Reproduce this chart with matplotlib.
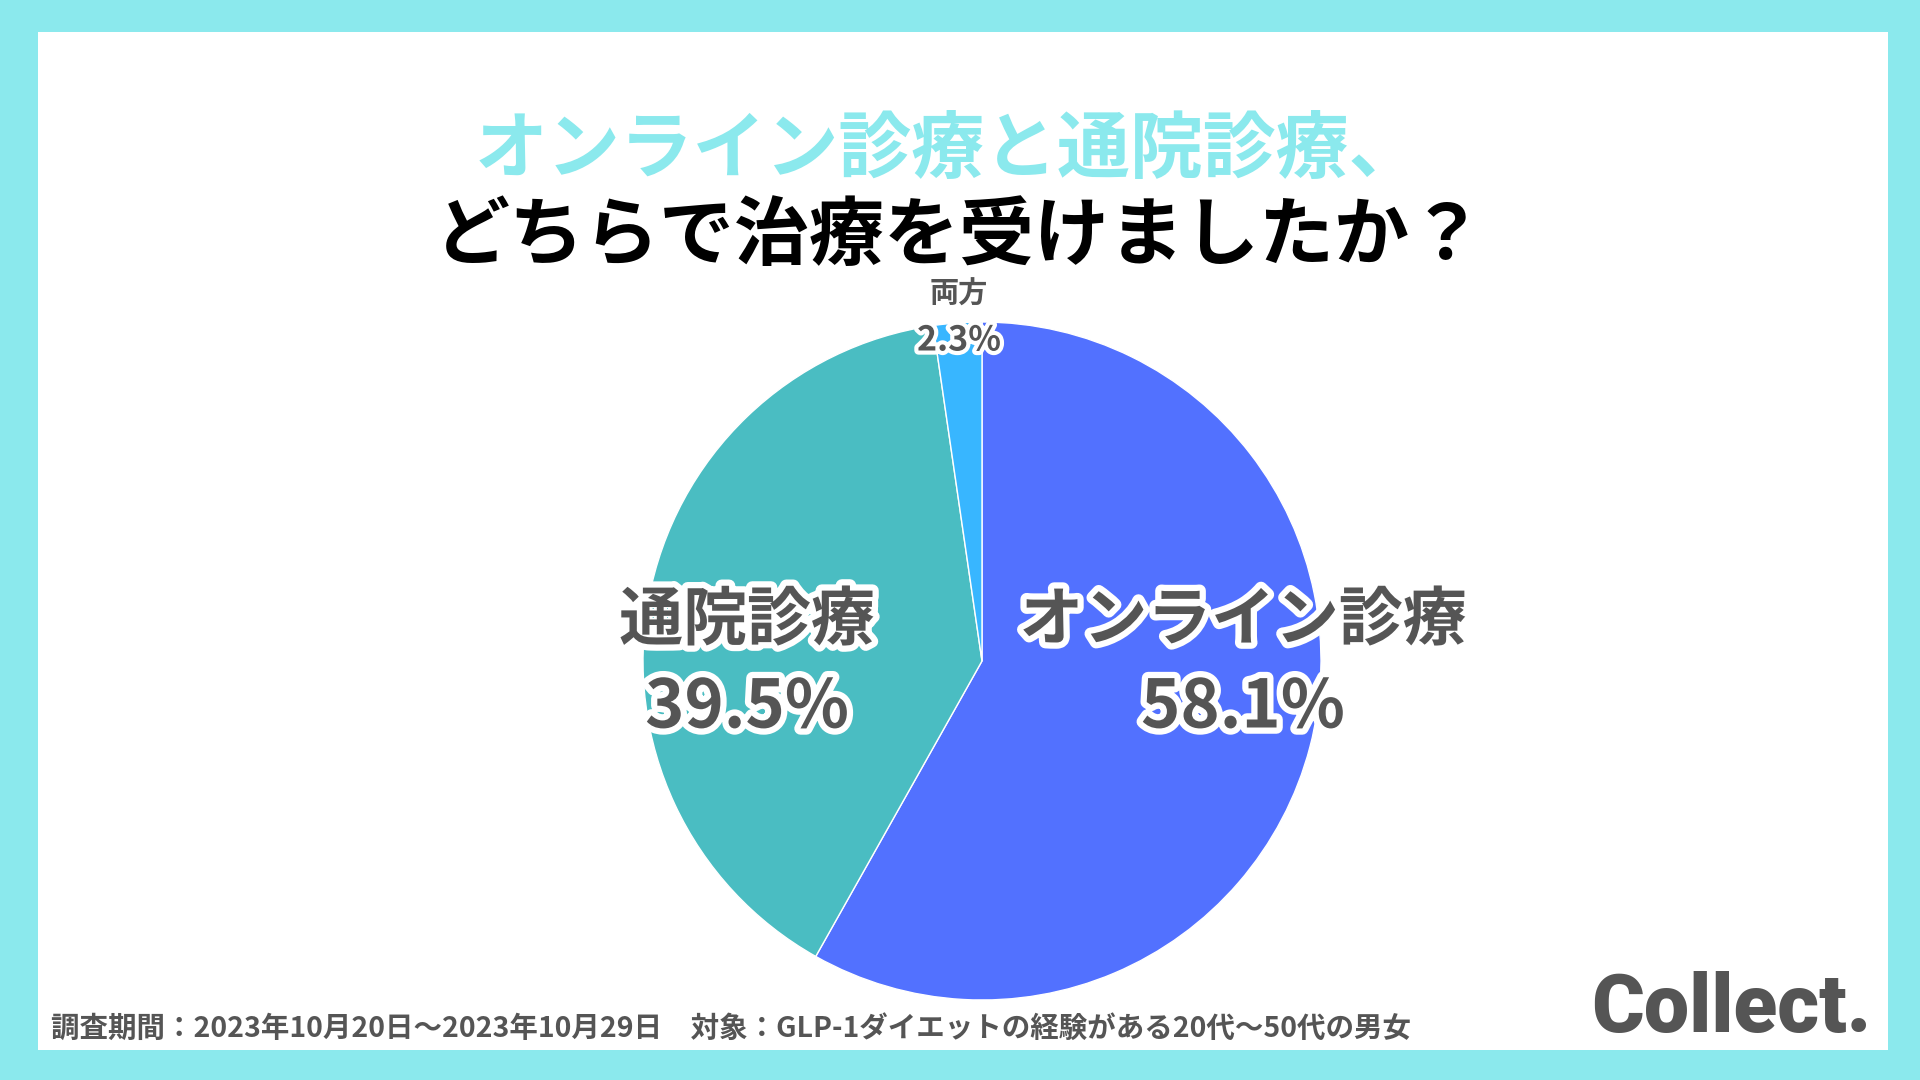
import matplotlib.pyplot as plt
import matplotlib.patheffects as pe
from matplotlib.patches import Rectangle

plt.rcParams['font.family'] = ['Noto Sans CJK JP', 'DejaVu Sans']

# data
labels = ['オンライン診療', '通院診療', '両方']
values = [58.1, 39.5, 2.3]
colors = ['#5271FF', '#4ABDC2', '#38B6FF']

title1 = 'オンライン診療と通院診療、'
title2 = 'どちらで治療を受けましたか？'
footer = '調査期間：2023年10月20日～2023年10月29日　対象：GLP-1ダイエットの経験がある20代～50代の男女'

W, H = 1920, 1080
fig = plt.figure(figsize=(19.2, 10.8), dpi=100)
fig.patch.set_facecolor('#8BE9ED')

# white card
fig.add_artist(Rectangle((38 / W, 1 - 1050 / H), (1888 - 38) / W, (1050 - 32) / H,
                         transform=fig.transFigure, facecolor='white', edgecolor='none', zorder=0))

# titles
fig.text(0.5 - 12 / W, 1 - 151 / H, title1, ha='center', va='center', fontsize=52.5,
         fontweight='bold', color='#8BE9ED')
fig.text(0.5, 1 - 237 / H, title2, ha='center', va='center', fontsize=54,
         fontweight='bold', color='black')

# pie
cx, cy, r = 982, 661, 339
ax = fig.add_axes([(cx - r) / W, 1 - (cy + r) / H, 2 * r / W, 2 * r / H])
ax.pie(values, colors=colors, startangle=90, counterclock=False,
       wedgeprops=dict(edgecolor='white', linewidth=1))
ax.set_xlim(-1, 1)
ax.set_ylim(-1, 1)
ax.set_aspect('equal')

stroke = [pe.withStroke(linewidth=9, foreground='white')]
big = dict(ha='center', va='center', fontweight='bold', color='#555555',
           path_effects=stroke)
fig.text(1243 / W, 1 - 621 / H, labels[0], fontsize=46, **big)
fig.text(1243 / W, 1 - 708 / H, f'{values[0]}%', fontsize=48, **big)
fig.text(747 / W, 1 - 621 / H, labels[1], fontsize=46, **big)
fig.text(747 / W, 1 - 708 / H, f'{values[1]}%', fontsize=48, **big)

fig.text(959 / W, 1 - 294 / H, labels[2], ha='center', va='center', fontsize=21,
         fontweight='bold', color='#555555')
fig.text(959 / W, 1 - 340 / H, f'{values[2]}%', ha='center', va='center', fontsize=24.5,
         fontweight='bold', color='#555555',
         path_effects=[pe.withStroke(linewidth=6, foreground='white')])

# footer and logo
fig.text(51 / W, 1 - 1029 / H, footer, ha='left', va='center', fontsize=20.5,
         fontweight='bold', color='#555555')
fig.text(1871 / W, 1 - 1010 / H, 'Collect.', ha='right', va='center', fontsize=58,
         fontweight='black', family='Roboto', color='#555555')

fig.savefig('out.png', dpi=100, facecolor=fig.get_facecolor())
